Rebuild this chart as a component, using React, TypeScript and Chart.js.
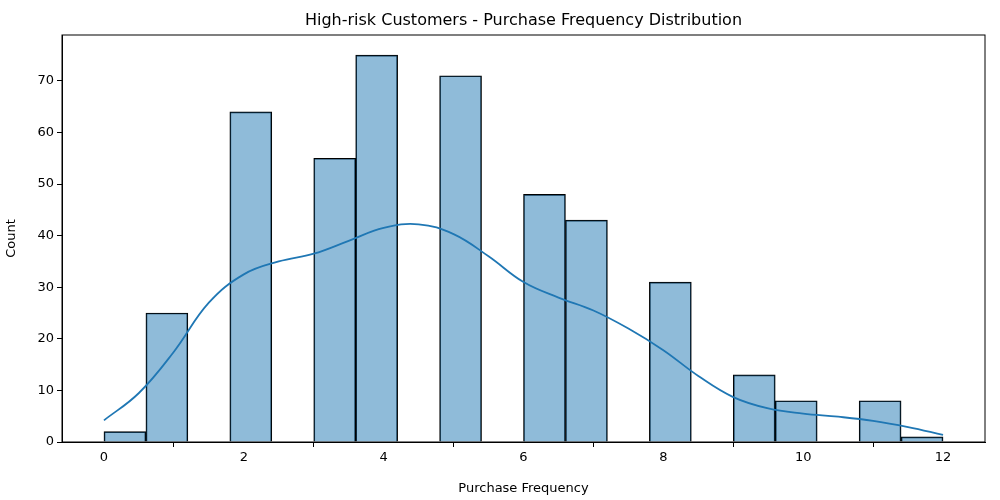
import { useEffect, useRef } from "react";
import Chart from "chart.js/auto";

const binCenters = [0.3, 0.9, 1.5, 2.1, 2.7, 3.3, 3.9, 4.5, 5.1, 5.7, 6.3, 6.9, 7.5, 8.1, 8.7, 9.3, 9.9, 10.5, 11.1, 11.7];
const counts = [2, 25, 0, 64, 0, 55, 75, 0, 71, 0, 48, 43, 0, 31, 0, 13, 8, 0, 8, 1];
const kdeX = [0, 0.5, 1, 1.5, 2, 2.5, 3, 3.5, 4, 4.5, 5, 5.5, 6, 6.5, 7, 7.5, 8, 8.5, 9, 9.5, 10, 10.5, 11, 11.5, 12];
const kdeY = [4.2, 9.5, 17.5, 27, 32.5, 35, 36.5, 39, 41.5, 42.2, 40.3, 36, 31, 28, 25.5, 22, 17.8, 12.8, 8.7, 6.5, 5.5, 4.9, 4.1, 2.9, 1.4];
const xTicks = [0, 2, 4, 6, 8, 10, 12];
const yTicks = [0, 10, 20, 30, 40, 50, 60, 70];

export default function App() {
  const canvasRef = useRef<HTMLCanvasElement>(null);

  useEffect(() => {
    document.body.style.margin = "0";
    if (!canvasRef.current) return;
    const ctx = canvasRef.current.getContext("2d");
    if (!ctx) return;
    const font = "'DejaVu Sans', sans-serif";
    const chart = new Chart(ctx, {
      type: "bar",
      data: {
        datasets: [
          {
            type: "line",
            data: kdeX.map((x, i) => ({ x, y: kdeY[i] })),
            borderColor: "#1f77b4",
            borderWidth: 1.8,
            pointRadius: 0,
            tension: 0.4,
          },
          {
            type: "bar",
            data: binCenters.map((x, i) => ({ x, y: counts[i] })),
            backgroundColor: "rgba(31,119,180,0.5)",
            borderColor: "#000",
            borderWidth: 1,
            barPercentage: 1,
            categoryPercentage: 1,
          },
        ],
      },
      options: {
        animation: false,
        responsive: false,
        layout: { padding: { top: 35, right: 15, left: 0, bottom: 0 } },
        plugins: { legend: { display: false }, tooltip: { enabled: false } },
        scales: {
          x: {
            type: "linear",
            offset: false,
            min: -0.6,
            max: 12.6,
            afterFit: (s: any) => { s.height = 58; },
            afterBuildTicks: (s: any) => { s.ticks = xTicks.map((value) => ({ value })); },
            ticks: { color: "#000", font: { family: font, size: 13 }, maxRotation: 0 },
            grid: { drawOnChartArea: false, tickLength: 5, color: "#000" },
            border: { display: true, color: "#000" },
            title: { display: true, text: "Purchase Frequency", color: "#000", font: { family: font, size: 13 }, padding: { top: 2 } },
          },
          y: {
            min: 0,
            max: 78.9,
            afterFit: (s: any) => { s.width = 62; },
            afterBuildTicks: (s: any) => { s.ticks = yTicks.map((value) => ({ value })); },
            ticks: { color: "#000", font: { family: font, size: 13 } },
            grid: { drawOnChartArea: false, tickLength: 5, color: "#000" },
            border: { display: true, color: "#000" },
            title: { display: true, text: "Count", color: "#000", font: { family: font, size: 13 }, padding: { bottom: 2 } },
          },
        },
      },
      plugins: [
        {
          id: "frame",
          afterDraw: (c: any) => {
            const { left, right, top, bottom } = c.chartArea;
            const g = c.ctx;
            g.save();
            g.strokeStyle = "#000";
            g.lineWidth = 1;
            g.strokeRect(left, top, right - left, bottom - top);
            g.fillStyle = "#000";
            g.font = `16px ${font}`;
            g.textAlign = "center";
            g.textBaseline = "middle";
            g.fillText("High-risk Customers - Purchase Frequency Distribution", (left + right) / 2, 21);
            g.restore();
          },
        },
      ],
    });
    return () => chart.destroy();
  }, []);

  return <canvas ref={canvasRef} width={1000} height={500} style={{ display: "block" }} />;
}
